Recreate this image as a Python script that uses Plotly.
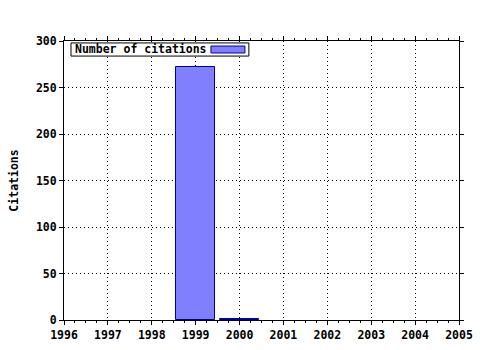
import plotly.graph_objects as go

years = [1999, 2000]
citations = [272, 1]
x_ticks = list(range(1996, 2006))
y_ticks = [0, 50, 100, 150, 200, 250, 300]
series_name = "Number of citations"

font = dict(family="DejaVu Sans Mono", size=11.5, color="black", weight="bold")

fig = go.Figure()
fig.add_trace(go.Bar(
    x=years, y=citations, width=0.9, name=series_name,
    marker=dict(color="#8080ff", line=dict(color="#0000a0", width=1)),
    showlegend=False,
))

axis_common = dict(
    showline=True, linecolor="black", linewidth=1, mirror="ticks",
    showgrid=True, gridcolor="black", griddash="1px,3px", gridwidth=1,
    ticks="outside", ticklen=4, tickcolor="black", tickwidth=1,
    zeroline=False, tickfont=font, automargin=False,
)
fig.update_xaxes(range=[1996, 2005], tickvals=x_ticks,
                 minor=dict(dtick=0.25, ticks="outside", ticklen=2, tickcolor="black", showgrid=False),
                 **axis_common)
fig.update_yaxes(range=[0, 300], tickvals=y_ticks,
                 title=dict(text="Citations", font=font, standoff=14),
                 **axis_common)

# legend box
fig.add_shape(type="rect", xref="paper", yref="paper", layer="above",
              x0=0.0177, x1=0.468, y0=0.946, y1=0.993,
              fillcolor="white", line=dict(color="black", width=1))
fig.add_shape(type="rect", xref="paper", yref="paper", layer="above",
              x0=0.372, x1=0.458, y0=0.957, y1=0.982,
              fillcolor="#8080ff", line=dict(color="#0000a0", width=1))
fig.add_annotation(
    xref="paper", yref="paper", x=0.022, y=0.970, xanchor="left", yanchor="middle",
    text=series_name, showarrow=False, align="left", font=font,
)

fig.update_layout(
    width=480, height=350, margin=dict(l=64, r=21, t=41, b=30),
    paper_bgcolor="white", plot_bgcolor="white", font=font, bargap=0,
)
fig.write_html("out.html")
